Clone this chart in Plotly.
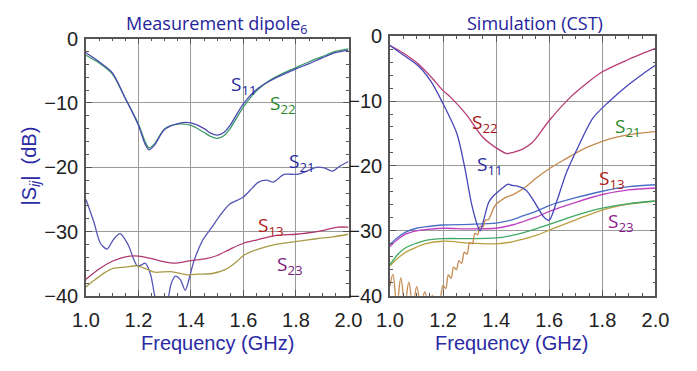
import plotly.graph_objects as go

# ---------------- Measurement (left) ----------------
f_meas = [1.00, 1.05, 1.10, 1.15, 1.20, 1.225, 1.24, 1.26, 1.30, 1.35, 1.40, 1.45, 1.475, 1.50,
          1.525, 1.55, 1.60, 1.65, 1.70, 1.75, 1.80, 1.85, 1.90, 1.95, 2.00]
s11_meas = [-2.2, -3.6, -5.3, -9.3, -13.5, -16.4, -17.3, -16.6, -14.1, -13.2, -13.1, -14.0, -14.7, -15.0,
            -14.6, -13.4, -10.1, -7.9, -6.6, -5.6, -4.7, -3.9, -3.0, -2.2, -1.8]
s22_meas = [-2.6, -3.8, -5.5, -9.3, -13.3, -16.0, -17.0, -16.4, -14.0, -13.3, -13.5, -14.6, -15.2, -15.5,
            -15.1, -13.9, -10.6, -8.1, -6.5, -5.4, -4.5, -3.6, -2.8, -2.0, -1.6]

f_s21_meas = [1.00, 1.03, 1.055, 1.08, 1.105, 1.13, 1.16, 1.195, 1.21, 1.225, 1.245, 1.265, 1.29,
              1.31, 1.325, 1.341, 1.36, 1.378, 1.395, 1.41, 1.445, 1.48, 1.512, 1.548, 1.597,
              1.634, 1.657, 1.689, 1.713, 1.755, 1.804, 1.841, 1.877, 1.908, 1.938, 1.968, 2.0]
s21_meas = [-25.0, -28.5, -31.8, -32.7, -31.2, -30.3, -32.0, -35.3, -35.2, -34.9, -36.5, -40.5, -43.0,
            -41.0, -38.0, -36.9, -37.5, -39.1, -37.0, -34.7, -31.3, -29.3, -27.4, -25.7, -24.7,
            -23.2, -22.3, -22.0, -22.3, -21.1, -21.1, -20.6, -20.0, -20.1, -20.6, -19.8, -19.1]

f_s13_meas = [1.0, 1.05, 1.1, 1.15, 1.2, 1.25, 1.3, 1.335, 1.4, 1.457, 1.5, 1.55, 1.6, 1.65,
              1.72, 1.8, 1.88, 1.96, 2.0]
s13_meas = [-37.4, -35.8, -34.6, -33.9, -33.8, -34.2, -34.7, -34.9, -34.5, -34.2, -33.7, -32.7,
            -31.8, -31.3, -30.6, -30.4, -30.0, -29.3, -29.3]

f_s23_meas = [1.0, 1.03, 1.07, 1.104, 1.15, 1.195, 1.23, 1.262, 1.323, 1.384, 1.43, 1.48, 1.53,
              1.57, 1.6, 1.657, 1.719, 1.804, 1.877, 1.94, 2.0]
s23_meas = [-38.6, -37.6, -36.4, -35.7, -35.5, -35.3, -35.8, -36.3, -36.2, -36.7, -36.6, -36.5,
            -35.9, -34.8, -33.7, -32.7, -32.0, -31.5, -31.1, -30.8, -30.4]

# ---------------- Simulation (right) ----------------
f_s22_sim = [1.0, 1.05, 1.107, 1.155, 1.2, 1.228, 1.288, 1.348, 1.396, 1.44, 1.464, 1.5, 1.536,
             1.6, 1.68, 1.74, 1.8, 1.898, 1.95, 2.0]
s22_sim = [-1.45, -2.6, -4.3, -6.3, -8.4, -9.4, -12.1, -15.5, -17.1, -18.1, -17.9, -17.4, -16.4,
           -13.0, -9.4, -7.3, -5.5, -3.6, -2.7, -1.9]

f_s11_sim = [1.0, 1.05, 1.107, 1.155, 1.2, 1.252, 1.282, 1.306, 1.33, 1.34, 1.355, 1.372, 1.39,
             1.409, 1.43, 1.445, 1.46, 1.48, 1.512, 1.548, 1.578, 1.599, 1.627, 1.663, 1.705,
             1.765, 1.825, 1.898, 1.95, 2.0]
s11_sim = [-1.45, -2.9, -4.6, -7.0, -10.4, -15.0, -20.3, -25.6, -29.2, -30.0, -28.0, -25.6, -24.6,
           -23.9, -23.2, -22.8, -23.0, -23.1, -23.7, -25.8, -27.8, -28.4, -25.6, -21.2, -17.4,
           -12.6, -10.1, -7.5, -5.9, -4.5]

f_s21_sim = [1.0, 1.011, 1.026, 1.041, 1.056, 1.071, 1.086, 1.101, 1.116, 1.131, 1.146, 1.16,
             1.175, 1.19, 1.20, 1.21, 1.22, 1.23, 1.24, 1.25, 1.26, 1.27, 1.28, 1.29, 1.30, 1.31,
             1.32, 1.33, 1.34, 1.35, 1.36, 1.37, 1.396, 1.43, 1.469, 1.512, 1.55, 1.597, 1.65,
             1.705, 1.75, 1.8, 1.85, 1.898, 1.95, 2.0]
s21_sim = [-38.5, -36.7, -41.5, -37.2, -41.5, -37.9, -41.5, -38.6, -41.5, -39.4, -41.5, -39.9,
           -41.5, -40.3, -38.4, -38.9, -36.8, -37.3, -35.6, -36.0, -34.6, -35.0, -33.3, -33.6,
           -31.8, -32.0, -30.4, -30.6, -29.3, -29.4, -28.3, -28.3, -26.1, -25.0, -24.3, -23.2,
           -21.9, -20.5, -19.2, -17.9, -17.0, -16.2, -15.6, -15.2, -14.9, -14.7]

f_bundle = [1.0, 1.03, 1.059, 1.1, 1.131, 1.2, 1.3, 1.4, 1.46, 1.5, 1.55, 1.6, 1.7, 1.8, 1.9, 2.0]
s13_sim = [-32.1, -31.0, -30.2, -29.6, -29.4, -29.1, -29.0, -28.8, -28.3, -27.7, -27.0, -26.1,
           -24.9, -23.9, -23.2, -22.9]
s23_sim = [-32.4, -31.3, -30.5, -30.0, -29.8, -29.6, -29.7, -29.6, -29.1, -28.6, -27.9, -27.0,
           -25.6, -24.4, -23.7, -23.4]
s12_sim = [-35.2, -33.6, -32.6, -31.9, -31.5, -31.2, -31.2, -31.1, -30.7, -30.3, -29.7, -29.0,
           -27.6, -26.5, -25.8, -25.4]
s33_sim = [-35.4, -34.2, -33.3, -32.5, -32.0, -31.6, -31.9, -32.0, -31.7, -31.3, -30.7, -29.9,
           -28.3, -26.8, -25.9, -25.4]

x_ticks = [1.0, 1.2, 1.4, 1.6, 1.8, 2.0]
x_ticklabels = ["1.0", "1.2", "1.4", "1.6", "1.8", "2.0"]
y_ticks = [0, -10, -20, -30, -40]

W, H = 697, 371

fig = go.Figure()

def add(x, y, color, xa, ya, smoothing=0.8, width=1.3):
    fig.add_trace(go.Scatter(
        x=x, y=y, mode="lines", xaxis=xa, yaxis=ya, showlegend=False,
        line=dict(color=color, width=width, shape="spline", smoothing=smoothing),
        hoverinfo="skip"))

# left
add(f_meas, s22_meas, "#3a9a6a", "x", "y")
add(f_meas, s11_meas, "#4a4ab0", "x", "y")
add(f_s21_meas, s21_meas, "#5555b5", "x", "y")
add(f_s13_meas, s13_meas, "#b0386e", "x", "y")
add(f_s23_meas, s23_meas, "#a89a45", "x", "y")

# right
add(f_bundle, s33_sim, "#b8a040", "x2", "y2")
add(f_bundle, s12_sim, "#3fa865", "x2", "y2")
add(f_bundle, s23_sim, "#c040c0", "x2", "y2")
add(f_bundle, s13_sim, "#4a6ec4", "x2", "y2")
add(f_s21_sim, s21_sim, "#c58a50", "x2", "y2", smoothing=1.0)
add(f_s22_sim, s22_sim, "#b83a75", "x2", "y2")
add(f_s11_sim, s11_sim, "#4646b8", "x2", "y2")

def px(x):
    return x / W

def py(y):
    return 1 - y / H

axis_common = dict(
    showline=True, linecolor="#555555", linewidth=1.5, mirror="allticks",
    ticks="inside", ticklen=6, tickwidth=1.2, tickcolor="#555555",
    showgrid=True, gridcolor="#9a9a9a", gridwidth=1.2, zeroline=False,
    tickfont=dict(family="Liberation Sans", size=20, color="#222222"),
)

xaxis_common = dict(axis_common, range=[1.0, 2.0], tickvals=x_ticks, ticktext=x_ticklabels,
                    minor=dict(ticks="inside", dtick=0.05, tick0=1.0, ticklen=3,
                               tickcolor="#555555", showgrid=False),
                    ticklabelstandoff=5)
yaxis_common = dict(axis_common, range=[-40, 0], tickvals=y_ticks,
                    minor=dict(ticks="inside", dtick=2, tick0=0, ticklen=3,
                               tickcolor="#555555", showgrid=False),
                    ticklabelstandoff=2)

fig.update_layout(
    width=W, height=H, margin=dict(l=0, r=0, t=0, b=0),
    paper_bgcolor="white", plot_bgcolor="white",
    xaxis=dict(xaxis_common, domain=[px(75), px(348.5)], anchor="y"),
    yaxis=dict(yaxis_common, domain=[py(303), py(29.3)], anchor="x"),
    xaxis2=dict(xaxis_common, domain=[px(391.7), px(668.3)], anchor="y2"),
    yaxis2=dict(yaxis_common, domain=[py(302.7), py(26.7)], anchor="x2"),
)

title_font = dict(family="Open Sans", size=18, color="#23239b")
axtitle_font = dict(family="Liberation Sans", size=20, color="#2a2aa5")
lab = "Open Sans"
ls = 19

annotations = [
    dict(text="Measurement dipole<sub>6</sub>", x=px(212), y=py(14), font=title_font),
    dict(text="Simulation (CST)", x=px(543), y=py(13), font=title_font),
    dict(text="Frequency (GHz)", x=px(212), y=py(353), font=axtitle_font),
    dict(text="Frequency (GHz)", x=px(518), y=py(353), font=axtitle_font),
    dict(text="|S<sub><i>ij</i></sub>|  (dB)", x=px(17), y=py(165), textangle=-90,
         font=dict(family="Liberation Sans", size=20, color="#2a2aa5")),
    # left labels
    dict(text="S<sub>11</sub>", x=px(240), y=py(79), font=dict(family=lab, size=ls, color="#2828a0")),
    dict(text="S<sub>22</sub>", x=px(280), y=py(99), font=dict(family=lab, size=ls, color="#2a8a2a")),
    dict(text="S<sub>21</sub>", x=px(300), y=py(161), font=dict(family=lab, size=ls, color="#2828a0")),
    dict(text="S<sub>13</sub>", x=px(268), y=py(229), font=dict(family=lab, size=ls, color="#b02020")),
    dict(text="S<sub>23</sub>", x=px(288), y=py(270), font=dict(family=lab, size=ls, color="#7a1a7a")),
    # right labels
    dict(text="S<sub>22</sub>", x=px(491), y=py(119), font=dict(family=lab, size=ls, color="#a01818")),
    dict(text="S<sub>11</sub>", x=px(496), y=py(164), font=dict(family=lab, size=ls, color="#2828a0")),
    dict(text="S<sub>21</sub>", x=px(640), y=py(123), font=dict(family=lab, size=ls, color="#2a8a2a")),
    dict(text="S<sub>13</sub>", x=px(623), y=py(179), font=dict(family=lab, size=ls, color="#b02020")),
    dict(text="S<sub>23</sub>", x=px(632), y=py(224), font=dict(family=lab, size=ls, color="#8a1a8a")),
]
for a in annotations:
    a.update(xref="paper", yref="paper", showarrow=False, xanchor="center", yanchor="middle")
fig.update_layout(annotations=annotations)

fig.write_html("out.html", post_script="document.body.style.margin='0px';")
